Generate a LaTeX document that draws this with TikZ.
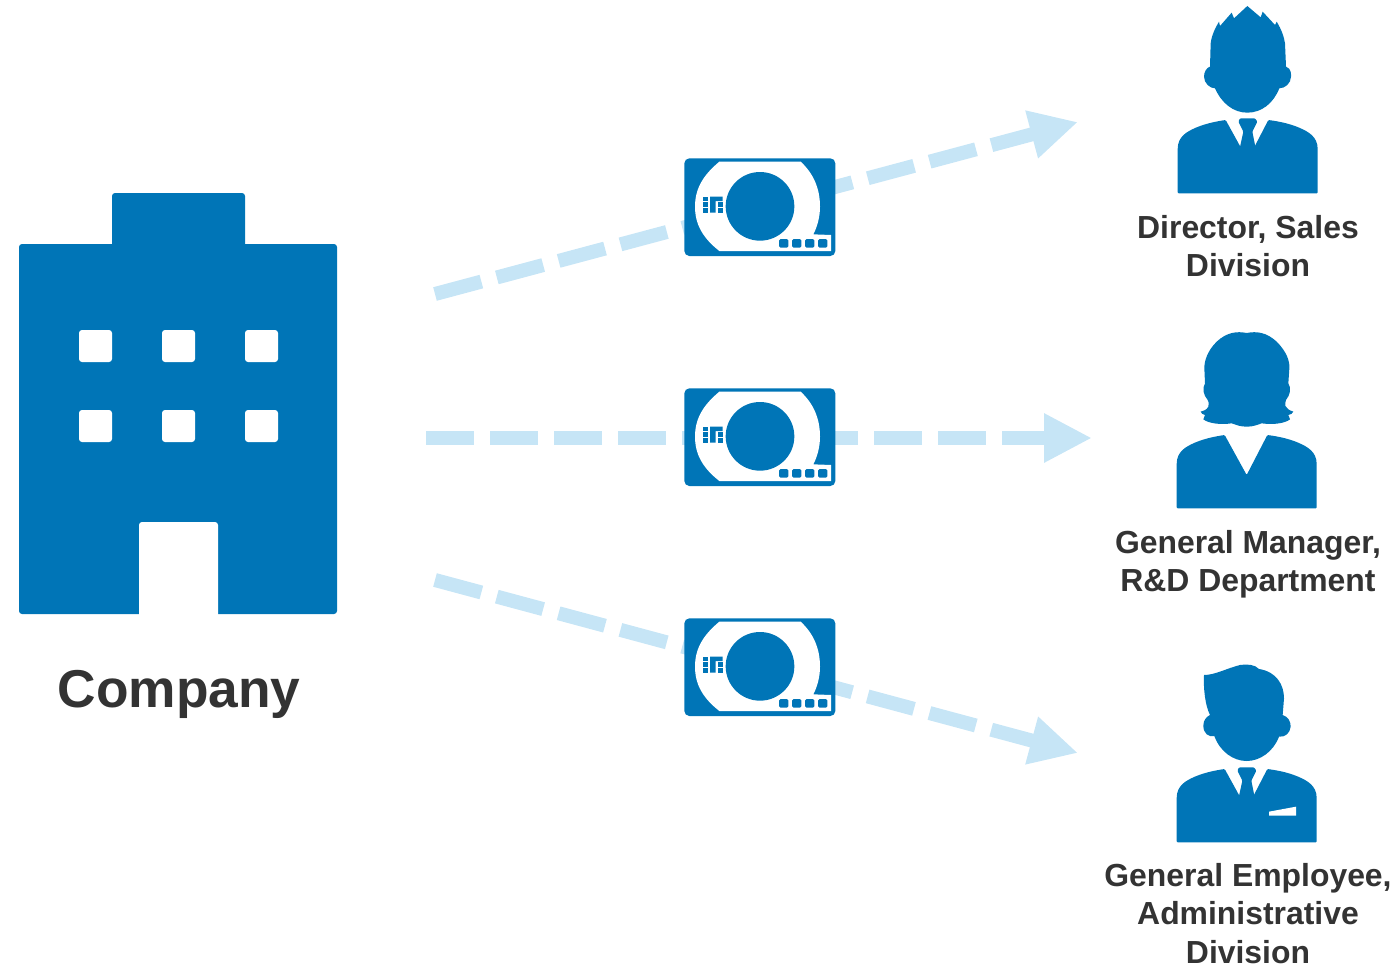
\documentclass[tikz,border=0pt]{standalone}
\usepackage{fontspec}
\setmainfont{Liberation Sans}
\usepackage{tikz}
\usetikzlibrary{arrows.meta}
\definecolor{iconblue}{HTML}{0075B7}
\definecolor{arrowblue}{HTML}{C6E5F6}
\definecolor{labelgrey}{HTML}{333333}
\newcommand{\stdarrow}{-{Triangle[length=48pt,width=46pt]}}
\tikzset{
    pics/card/.style={code={
        \fill[iconblue, rounded corners=5pt] (43,40) rectangle (496,333);
        \fill[white] (148,50) -- (392,50) .. controls (430,85) and (450,130) .. (450,185)
            .. controls (450,215) and (442,245) .. (430,268) -- (483,270) -- (483,318) -- (148,318)
            .. controls (100,280) and (75,240) .. (75,185) .. controls (75,130) and (100,90) .. (148,50) -- cycle;
        \fill[iconblue] (270,184) circle (103);
        \foreach \ypos in {155,172,190} {
            \fill[iconblue] (100,\ypos) rectangle (115,\ypos+13);
        }
        \fill[iconblue] (120,155) -- (158,155) -- (158,168) -- (137,168) -- (137,203) -- (120,203) -- cycle;
        \fill[iconblue] (143,172) rectangle (158,185);
        \fill[iconblue] (143,190) rectangle (158,203);
        \foreach \xpos in {327,366,405,444} {
            \fill[iconblue, rounded corners=1.5pt] (\xpos,282) rectangle (\xpos+28,308);
        }
    }},
    pics/suit/.style={code={
        \fill[iconblue, rounded corners=1pt] (53,580) -- (53,450) .. controls (53,410) and (80,395) .. (110,382)
            .. controls (140,370) and (170,364) .. (197,360) -- (263,480) -- (325,360)
            .. controls (355,364) and (385,370) .. (415,382) .. controls (445,395) and (473,410) .. (473,450) -- (473,580) -- cycle;
    }},
    pics/necktie/.style={code={
        \fill[iconblue, rounded corners=1pt] (250,395) -- (235,365) -- (240,355) -- (285,355) -- (292,365) -- (277,395)
            -- (288,450) -- (263,490) -- (238,450) -- cycle;
    }}
}
\begin{document}
\begin{tikzpicture}[x=1pt, y=-1pt,
    flow/.style={draw=arrowblue, line width=14pt, dash pattern=on 48pt off 16pt},
    role/.style={font=\bfseries\fontsize{31.9}{38.5}\selectfont, text=labelgrey, align=center, anchor=north, inner sep=0pt}]
    \useasboundingbox (0,0) rectangle (1397,966);

    \fill[iconblue, rounded corners=3pt] (19,244) rectangle (337,614);
    \fill[iconblue, rounded corners=3pt] (112,193) rectangle (245,260);
    \fill[white, rounded corners=3pt] (139,522) rectangle (218,640);
    \foreach \xpos in {79,162,245} {
        \foreach \ypos in {330,410} {
            \fill[white, rounded corners=3pt] (\xpos,\ypos) rectangle (\xpos+33,\ypos+32);
        }
    }
    \node[font=\bfseries\fontsize{53.3}{60}\selectfont, text=labelgrey, anchor=base, inner sep=0pt] (company) at (179,707) {Company};

    \coordinate (startone) at (435,294);
    \coordinate (endone) at (1078,122);
    \coordinate (starttwo) at (426,438);
    \coordinate (endtwo) at (1092,438);
    \coordinate (startthree) at (435,580);
    \coordinate (endthree) at (1078,753);
    \draw[flow, \stdarrow] (startone) -- (endone);
    \draw[flow, \stdarrow] (starttwo) -- (endtwo);
    \draw[flow, \stdarrow] (startthree) -- (endthree);

    \pic[scale=1/3] at (670,145) {card};
    \pic[scale=1/3] at (670,375) {card};
    \pic[scale=1/3] at (670,605) {card};

    \pic[scale=1/3] at (1160,0) {suit};
    \pic[scale=1/3] at (1160,0) {necktie};
    \begin{scope}[shift={(1160,0)}, scale=1/3]
        \fill[iconblue] (262,18) -- (302,52) -- (308,35) -- (345,75) -- (350,65)
            .. controls (365,90) and (372,110) .. (375,130) -- (378,200)
            .. controls (395,205) and (393,225) .. (393,230) .. controls (393,250) and (375,265) .. (358,265)
            .. controls (340,310) and (305,338) .. (262,338) .. controls (220,338) and (185,310) .. (165,265)
            .. controls (150,265) and (132,250) .. (132,230) .. controls (132,215) and (140,203) .. (150,200)
            -- (152,130) .. controls (155,105) and (165,85) .. (177,65) -- (180,78) -- (215,38) -- (222,55) -- cycle;
    \end{scope}
    \node[role] (director) at (1248,215) {Director, Sales\\Division};

    \pic[scale=1/3] at (1159,315) {suit};
    \begin{scope}[shift={(1160,325)}, scale=1/3]
        \fill[iconblue] (260,24) .. controls (290,18) and (320,22) .. (350,50)
            .. controls (380,80) and (390,110) .. (388,130) -- (385,175)
            .. controls (395,190) and (390,210) .. (378,225) .. controls (375,235) and (375,245) .. (378,245)
            .. controls (385,255) and (392,258) .. (400,260) .. controls (398,266) and (392,268) .. (385,270)
            -- (390,283) .. controls (375,295) and (340,300) .. (305,295) .. controls (290,300) and (280,305) .. (260,305)
            .. controls (240,305) and (230,300) .. (215,295) .. controls (180,300) and (145,295) .. (130,283)
            -- (135,270) .. controls (128,268) and (124,266) .. (122,260) .. controls (130,258) and (140,255) .. (145,245)
            .. controls (147,235) and (147,230) .. (143,225) .. controls (130,210) and (126,190) .. (135,175)
            -- (133,130) .. controls (133,110) and (140,80) .. (170,50) .. controls (200,22) and (230,18) .. (260,24) -- cycle;
    \end{scope}
    \node[role] (manager) at (1248,530) {General Manager,\\R\&D Department};

    \pic[scale=1/3] at (1159,649) {suit};
    \pic[scale=1/3] at (1159,649) {necktie};
    \begin{scope}[shift={(1160,655)}, scale=1/3]
        \fill[iconblue] (132,60) .. controls (165,60) and (200,40) .. (240,30) .. controls (260,27) and (285,28) .. (297,42)
            .. controls (350,50) and (372,90) .. (372,130) -- (368,180)
            .. controls (385,185) and (392,200) .. (392,215) .. controls (390,235) and (375,247) .. (357,245)
            .. controls (340,290) and (300,318) .. (260,318) .. controls (220,318) and (180,290) .. (163,243)
            .. controls (145,247) and (130,235) .. (130,212) .. controls (130,195) and (140,185) .. (150,180)
            .. controls (135,150) and (130,100) .. (132,60) -- cycle;
        \fill[white] (327,470) -- (408,455) -- (408,482) -- (327,482) -- cycle;
    \end{scope}
    \node[role] (employee) at (1248,863) {General Employee,\\Administrative\\Division};
\end{tikzpicture}
\end{document}
